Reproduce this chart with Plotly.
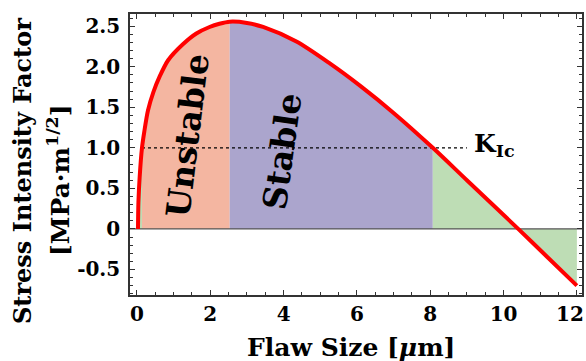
import plotly.graph_objects as go

# Curve data (flaw size in µm, K in MPa·m^1/2)
flaw = [0.028, 0.04, 0.074, 0.137, 0.2, 0.30, 0.45, 0.62, 0.85, 1.26, 1.62, 1.98, 2.25,
        2.53, 3.0, 3.44, 4.35, 5.26, 6.1, 7.0, 8.07, 9.0, 10.4, 11.2, 12.0]
kval = [0.0, 0.33, 0.64, 1.0, 1.2, 1.46, 1.69, 1.88, 2.08, 2.28, 2.41, 2.49, 2.53,
        2.555, 2.54, 2.49, 2.31, 2.04, 1.76, 1.43, 1.0, 0.60, 0.0, -0.35, -0.70]

K_IC = 1.0
KIC_LINE_X = [0.137, 9.0]
SPLIT_GREEN_LEFT = 0.137
SPLIT_UNSTABLE = 2.53
SPLIT_STABLE = 8.07
X_RANGE = [-0.19, 12.14]
Y_RANGE = [-0.815, 2.65]
X_TICKS = [0, 2, 4, 6, 8, 10, 12]
X_TICKTEXT = ["0", "2", "4", "6", "8", "10", "12\u00a0\u00a0"]
Y_TICKS = [-0.5, 0, 0.5, 1.0, 1.5, 2.0, 2.5]
Y_TICKTEXT = ["-0.5", "0", "0.5", "1.0", "1.5", "2.0", "2.5"]

C_ORANGE = "#F4B6A1"
C_PURPLE = "#ABA5CD"
C_GREEN = "#BEDDB5"

SMOOTH = 0.8

def segment(lo, hi):
    xs = [x for x in flaw if lo <= x <= hi]
    ys = [y for x, y in zip(flaw, kval) if lo <= x <= hi]
    return xs, ys

fig = go.Figure()
for lo, hi, col in [(flaw[0], SPLIT_GREEN_LEFT, C_GREEN),
                    (SPLIT_GREEN_LEFT, SPLIT_UNSTABLE, C_ORANGE),
                    (SPLIT_UNSTABLE, SPLIT_STABLE, C_PURPLE),
                    (SPLIT_STABLE, flaw[-1], C_GREEN)]:
    xs, ys = segment(lo, hi)
    fig.add_trace(go.Scatter(x=xs, y=ys, mode="lines", fill="tozeroy",
                             fillcolor=col, line=dict(width=0, shape="spline", smoothing=SMOOTH),
                             hoverinfo="skip", showlegend=False))

# zero line
fig.add_trace(go.Scatter(x=X_RANGE, y=[0, 0], mode="lines",
                         line=dict(color="#555555", width=1.2), showlegend=False))
# K_Ic line
fig.add_trace(go.Scatter(x=KIC_LINE_X, y=[K_IC, K_IC], mode="lines",
                         line=dict(color="black", width=1.2, dash="dot"), showlegend=False))
# curve
fig.add_trace(go.Scatter(x=flaw, y=kval, mode="lines",
                         line=dict(color="#FF0000", width=4, shape="spline", smoothing=SMOOTH),
                         showlegend=False))

serif = "DejaVu Serif"
fig.add_annotation(x=9.15, y=K_IC + 0.03, xref="x", yref="y", xanchor="left", yanchor="middle",
                   text="K<sub>Ic</sub>", showarrow=False,
                   font=dict(family=serif, size=25, color="black", weight="bold"))
fig.add_annotation(x=1.39, y=1.16, xref="x", yref="y", text="Unstable", showarrow=False,
                   textangle=-83, font=dict(family=serif, size=33, color="black", weight="bold"))
fig.add_annotation(x=3.95, y=0.96, xref="x", yref="y", text="Stable", showarrow=False,
                   textangle=-82, font=dict(family=serif, size=33, color="black", weight="bold"))

# axis titles as annotations
PL, PR, PT, PB = 130, 582, 14, 295
W, H = PR - PL, PB - PT
def px(x): return (x - PL) / W
def py(y): return (PB - y) / H

fig.add_annotation(x=px(22), y=py(171), xref="paper", yref="paper", text="Stress Intensity Factor",
                   showarrow=False, textangle=-90, xanchor="center", yanchor="middle",
                   font=dict(family=serif, size=24, color="black", weight="bold"))
fig.add_annotation(x=px(58), y=py(180), xref="paper", yref="paper", text="[MPa·m<sup>1/2</sup>]",
                   showarrow=False, textangle=-90, xanchor="center", yanchor="middle",
                   font=dict(family=serif, size=25, color="black", weight="bold"))
fig.add_annotation(x=px(351), y=py(347), xref="paper", yref="paper", text="Flaw Size [<i>μ</i>m]",
                   showarrow=False, xanchor="center", yanchor="middle",
                   font=dict(family=serif, size=25, color="black", weight="bold"))

axis_common = dict(showline=True, linecolor="#333333", linewidth=1.5, mirror="allticks",
                   ticks="inside", ticklen=5, tickwidth=1, tickcolor="#333333",
                   showgrid=False, zeroline=False, ticklabeloverflow="allow", automargin=False,
                   tickfont=dict(family=serif, size=20, color="black", weight="bold"))

fig.update_xaxes(range=X_RANGE, tickvals=X_TICKS, ticktext=X_TICKTEXT,
                 minor=dict(dtick=0.5, ticks="inside", ticklen=3, tickcolor="#333333", showgrid=False),
                 **axis_common)
fig.update_yaxes(range=Y_RANGE, tickvals=Y_TICKS, ticktext=Y_TICKTEXT, ticklabelstandoff=4,
                 minor=dict(dtick=0.1, ticks="inside", ticklen=3, tickcolor="#333333", showgrid=False),
                 **axis_common)

fig.update_layout(width=586, height=361, margin=dict(l=PL, r=586 - PR, t=PT, b=361 - PB),
                  plot_bgcolor="white", paper_bgcolor="white", showlegend=False)

fig.write_html("out.html")
